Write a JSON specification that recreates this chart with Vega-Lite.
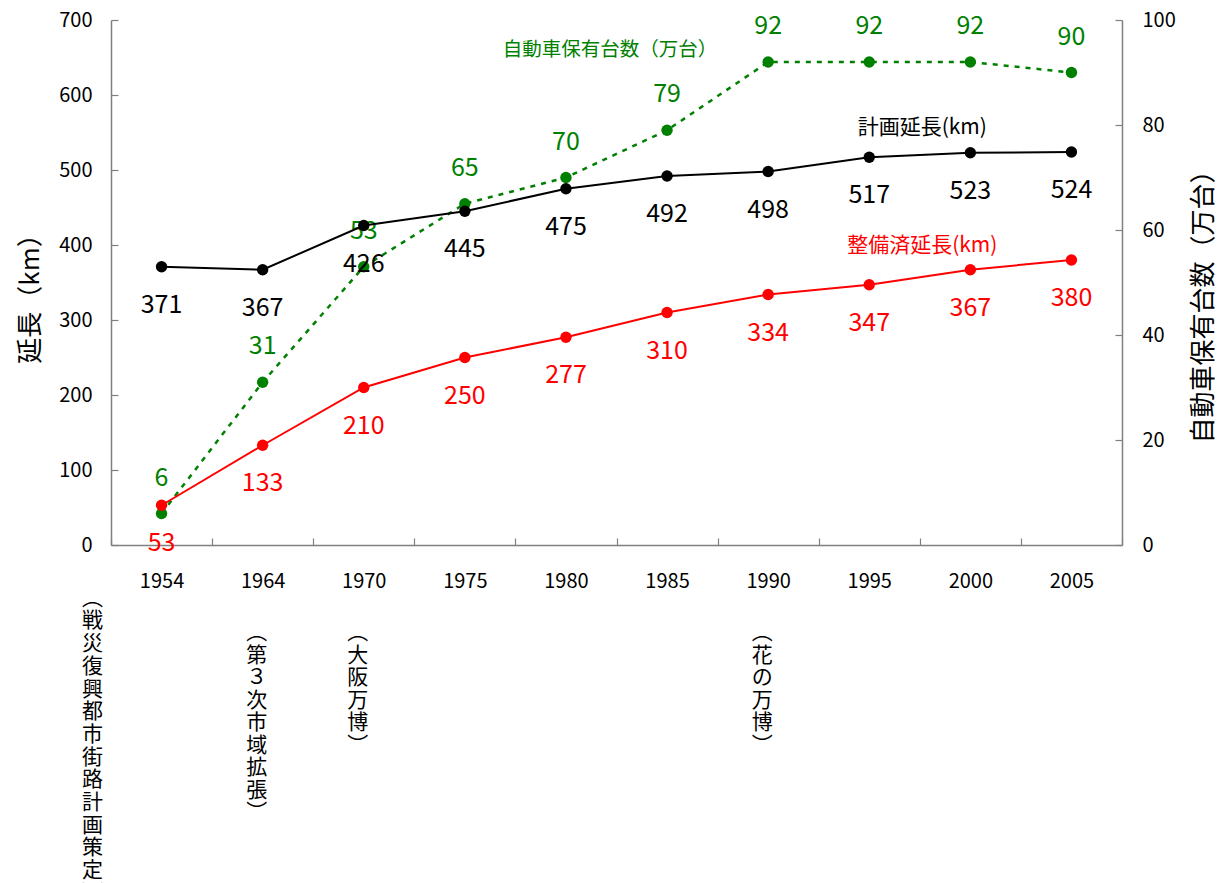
{
  "$schema": "https://vega.github.io/schema/vega-lite/v6.json",
  "autosize": {"type": "none"},
  "padding": {"left": 111, "top": 20, "right": 99, "bottom": 338},
  "width": 1011,
  "height": 525,
  "background": "white",
  "config": {
    "font": "Noto Sans CJK JP",
    "view": {"stroke": null},
    "axis": {
      "grid": false,
      "domainColor": "#808080",
      "tickColor": "#808080",
      "domainWidth": 1.5,
      "tickWidth": 1.2,
      "labelColor": "#000000",
      "titleColor": "#000000",
      "labelFont": "Noto Sans CJK JP",
      "titleFont": "Noto Sans CJK JP",
      "titleFontWeight": "normal"
    }
  },
  "data": {
    "values": [
      {"year": "1954", "plan": 371, "done": 53, "cars": 6, "note": "︵\n戦\n災\n復\n興\n都\n市\n街\n路\n計\n画\n策\n定\n︶"},
      {"year": "1964", "plan": 367, "done": 133, "cars": 31, "note": "︵\n第\n３\n次\n市\n域\n拡\n張\n︶"},
      {"year": "1970", "plan": 426, "done": 210, "cars": 53, "note": "︵\n大\n阪\n万\n博\n︶"},
      {"year": "1975", "plan": 445, "done": 250, "cars": 65},
      {"year": "1980", "plan": 475, "done": 277, "cars": 70},
      {"year": "1985", "plan": 492, "done": 310, "cars": 79},
      {"year": "1990", "plan": 498, "done": 334, "cars": 92, "note": "︵\n花\nの\n万\n博\n︶"},
      {"year": "1995", "plan": 517, "done": 347, "cars": 92},
      {"year": "2000", "plan": 523, "done": 367, "cars": 92},
      {"year": "2005", "plan": 524, "done": 380, "cars": 90}
    ]
  },
  "encoding": {
    "x": {
      "field": "year",
      "type": "ordinal",
      "scale": {"type": "band", "paddingInner": 0, "paddingOuter": 0},
      "axis": {
        "title": null,
        "labelAngle": 0,
        "labelFontSize": 20,
        "labelPadding": 33,
        "tickSize": -7,
        "tickBand": "extent",
        "labelFont": "Noto Sans CJK JP"
      }
    }
  },
  "layer": [
    {
      "encoding": {
        "y": {
          "field": "cars",
          "type": "quantitative",
          "scale": {"domain": [0, 100]},
          "axis": {
            "orient": "right",
            "values": [0, 20, 40, 60, 80, 100],
            "labelFontSize": 20,
            "tickSize": -7,
            "labelPadding": 27,
            "title": "自動車保有台数（万台）",
            "titleFontSize": 26,
            "titleAngle": -90,
            "titleX": 81,
            "titleY": 280,
            "titleBaseline": "middle",
            "titleAlign": "center"
          }
        }
      },
      "layer": [
        {"mark": {"type": "line", "color": "#008000", "strokeWidth": 2.5, "strokeDash": [5, 6]}},
        {"mark": {"type": "point", "filled": true, "color": "#008000", "size": 130, "opacity": 1}},
        {
          "mark": {"type": "text", "color": "#008000", "fontSize": 25, "dy": -36, "baseline": "middle"},
          "encoding": {"text": {"field": "cars", "type": "quantitative"}}
        }
      ]
    },
    {
      "layer": [
        {
          "mark": {"type": "line", "color": "#000000", "strokeWidth": 2},
          "encoding": {
            "y": {
              "field": "plan",
              "type": "quantitative",
              "scale": {"domain": [0, 700]},
              "axis": {
                "orient": "left",
                "values": [0, 100, 200, 300, 400, 500, 600, 700],
                "labelFontSize": 20,
                "tickSize": -7,
                "labelPadding": 26,
                "title": "延長（km）",
                "titleFontSize": 26,
                "titleAngle": -90,
                "titleX": -81,
                "titleY": 272,
                "titleBaseline": "middle",
                "titleAlign": "center"
              }
            }
          }
        },
        {
          "mark": {"type": "point", "filled": true, "color": "#000000", "size": 130, "opacity": 1},
          "encoding": {"y": {"field": "plan", "type": "quantitative"}}
        },
        {
          "mark": {"type": "line", "color": "#ff0000", "strokeWidth": 2},
          "encoding": {"y": {"field": "done", "type": "quantitative"}}
        },
        {
          "mark": {"type": "point", "filled": true, "color": "#ff0000", "size": 130, "opacity": 1},
          "encoding": {"y": {"field": "done", "type": "quantitative"}}
        },
        {
          "mark": {"type": "text", "color": "#000000", "fontSize": 25, "dy": 38, "baseline": "middle"},
          "encoding": {
            "y": {"field": "plan", "type": "quantitative"},
            "text": {"field": "plan", "type": "quantitative"}
          }
        },
        {
          "mark": {"type": "text", "color": "#ff0000", "fontSize": 25, "dy": 38, "baseline": "middle"},
          "encoding": {
            "y": {"field": "done", "type": "quantitative"},
            "text": {"field": "done", "type": "quantitative"}
          }
        },
        {
          "transform": [{"filter": "datum.year === '1954'"}],
          "mark": {"type": "text", "color": "#000000", "fontSize": 21, "lineBreak": "\n", "lineHeight": 22.7, "baseline": "top", "align": "center", "dx": -69},
          "encoding": {
            "y": {"datum": -57},
            "text": {"field": "note", "type": "nominal"}
          }
        },
        {
          "transform": [{"filter": "datum.note != null && datum.year !== '1954'"}],
          "mark": {"type": "text", "color": "#000000", "fontSize": 21, "lineBreak": "\n", "lineHeight": 22.5, "baseline": "top", "align": "center", "dx": -6},
          "encoding": {
            "y": {"datum": -103},
            "text": {"field": "note", "type": "nominal"}
          }
        },
        {
          "data": {"values": [{"label": "計画延長(km)"}]},
          "mark": {"type": "text", "color": "#000000", "fontSize": 21, "baseline": "middle", "align": "center", "dx": 53},
          "encoding": {
            "x": {"datum": "1995", "type": "ordinal"},
            "y": {"datum": 556},
            "text": {"field": "label", "type": "nominal"}
          }
        },
        {
          "data": {"values": [{"label": "整備済延長(km)"}]},
          "mark": {"type": "text", "color": "#ff0000", "fontSize": 21, "baseline": "middle", "align": "center", "dx": 53},
          "encoding": {
            "x": {"datum": "1995", "type": "ordinal"},
            "y": {"datum": 399},
            "text": {"field": "label", "type": "nominal"}
          }
        },
        {
          "data": {"values": [{"label": "自動車保有台数（万台）"}]},
          "mark": {"type": "text", "color": "#008000", "fontSize": 19.5, "baseline": "middle", "align": "center", "dx": 44},
          "encoding": {
            "x": {"datum": "1980", "type": "ordinal"},
            "y": {"datum": 660},
            "text": {"field": "label", "type": "nominal"}
          }
        }
      ]
    }
  ],
  "resolve": {"scale": {"y": "independent"}}
}
